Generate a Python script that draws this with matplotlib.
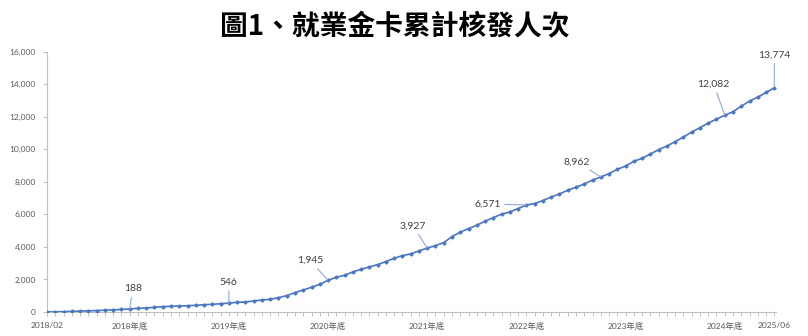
import matplotlib
matplotlib.use("Agg")
import matplotlib.pyplot as plt
import pandas as pd

# ---------------- data ----------------
months = [str(p) for p in pd.period_range("2018-02", "2025-06", freq="M")]

values = [
    # 2018 (Feb-Dec)
    3, 12, 25, 40, 55, 72, 90, 110, 132, 158, 188,
    # 2019
    227, 245, 288, 327, 350, 368, 386, 411, 448, 472, 509, 546,
    # 2020
    596, 615, 677, 738, 779, 881, 1004, 1189, 1353, 1517, 1701, 1945,
    # 2021
    2132, 2255, 2460, 2624, 2767, 2911, 3096, 3301, 3465, 3568, 3752, 3927,
    # 2022
    4079, 4263, 4632, 4899, 5125, 5330, 5576, 5802, 6007, 6150, 6355, 6571,
    # 2023
    6663, 6847, 7068, 7252, 7479, 7663, 7865, 8110, 8294, 8502, 8766, 8962,
    # 2024
    9256, 9440, 9704, 9973, 10194, 10464, 10746, 11053, 11323, 11605, 11850, 12082,
    # 2025 (Jan-Jun)
    12303, 12646, 12953, 13198, 13486, 13774,
]

tick_months = ["2018-02", "2018-12", "2019-12", "2020-12", "2021-12",
               "2022-12", "2023-12", "2024-12", "2025-06"]
tick_labels = ["2018/02", "2018年底", "2019年底", "2020年底", "2021年底",
               "2022年底", "2023年底", "2024年底", "2025/06"]

# annotated points (month the leader points to) and label texts
annot_months = ["2018-12", "2019-12", "2020-12", "2021-12", "2022-12",
                "2023-09", "2024-12", "2025-06"]
annot_texts = ["188", "546", "1,945", "3,927", "6,571", "8,962", "12,082", "13,774"]
annot_offsets = [(3, 20), (0, 21), (-18, 20), (-14, 22), (-39, 1),
                 (-24, 15), (-11, 31), (0, 33)]

y_ticks = [0, 2000, 4000, 6000, 8000, 10000, 12000, 14000, 16000]
title = "圖1、就業金卡累計核發人次"

# ---------------- plot ----------------
plt.rcParams["font.family"] = ["Lato", "Noto Sans CJK TC", "DejaVu Sans"]

fig = plt.figure(figsize=(8.08, 3.36), dpi=100)
ax = fig.add_axes([0.0582, 0.0714, 0.9022, 0.7753])

x = list(range(len(values)))
line_color = "#4A76C2"
ax.plot(x, values, color=line_color, lw=1.2, marker="D", ms=1.6,
        mfc=line_color, mec=line_color, zorder=3)

ax.set_xlim(0, len(values) - 1 + 0.2)
ax.set_ylim(0, 16000)

# axes styling
for s in ["top", "right"]:
    ax.spines[s].set_visible(False)
for s in ["left", "bottom"]:
    ax.spines[s].set_color("#BFBFBF")
    ax.spines[s].set_linewidth(0.8)

ax.set_yticks(y_ticks)
ax.set_yticklabels([f"{v:,}" for v in y_ticks])

label_map = dict(zip(tick_months, tick_labels))
ax.set_xticks(x)
ax.set_xticklabels([label_map.get(m, "") for m in months])

ax.tick_params(axis="both", colors="#BFBFBF", labelcolor="#595959",
               labelsize=6, length=3, width=0.7, direction="out")
ax.tick_params(axis="x", pad=4)
ax.tick_params(axis="y", pad=5)

# annotations
for m, t, off in zip(annot_months, annot_texts, annot_offsets):
    i = months.index(m)
    ax.annotate(t, xy=(i, values[i]), xytext=off, textcoords="offset pixels",
                ha="center", va="center", fontsize=7.5, color="#404040",
                arrowprops=dict(arrowstyle="-", color="#8EA9DB", lw=0.8,
                                shrinkA=1, shrinkB=0),
                zorder=4)

fig.text(0.489, 0.918, title, ha="center", va="center", fontsize=20,
         fontweight="bold", family=["Noto Sans CJK TC", "DejaVu Sans"],
         color="black")

fig.savefig("out.png", dpi=100, facecolor="white")
